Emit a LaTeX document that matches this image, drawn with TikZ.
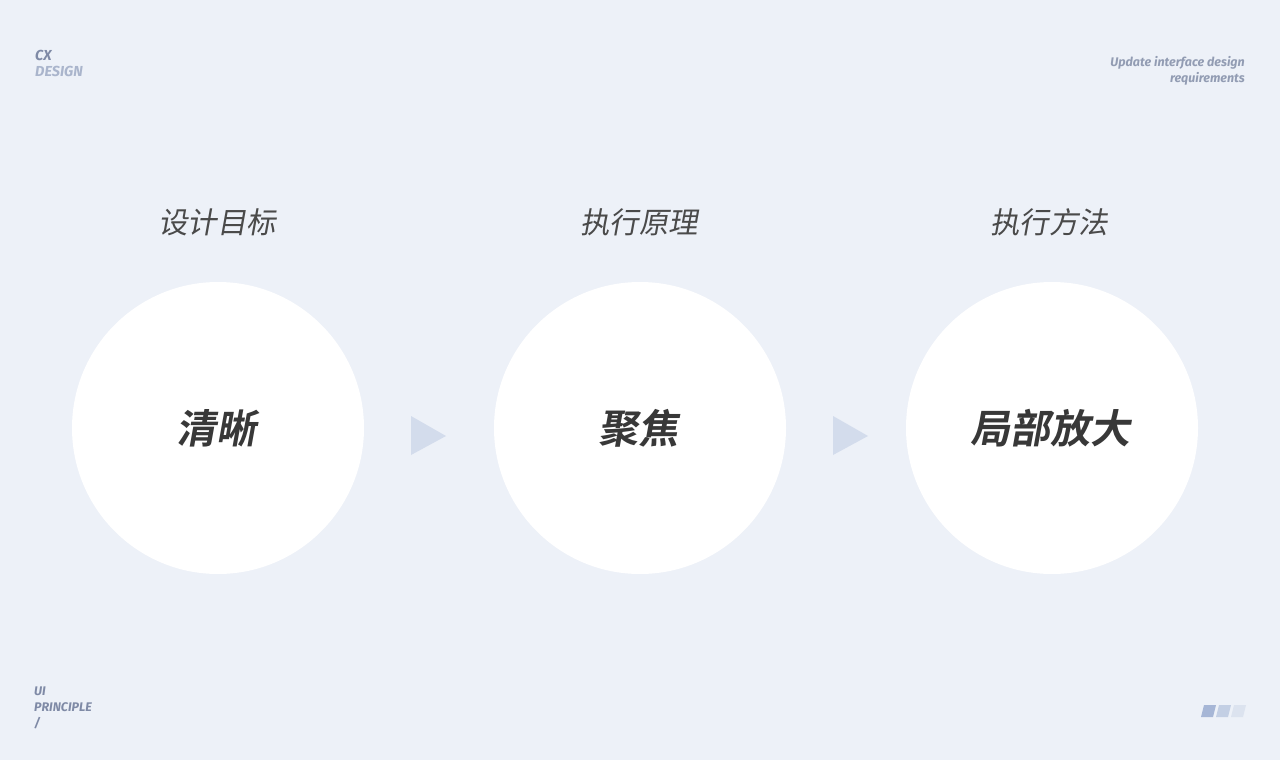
\documentclass[tikz,border=0pt]{standalone}
\usepackage{fontspec}
\newfontfamily\cjkh[FakeSlant=0.18]{Noto Sans CJK SC}
\newfontfamily\cjkb[FakeSlant=0.18,UprightFont=* Bold]{Noto Sans CJK SC}
\setsansfont{Fira Sans}
\definecolor{bg}{HTML}{EDF1F8}
\definecolor{tri}{HTML}{D3DCEC}
\definecolor{headc}{HTML}{4A4A4A}
\definecolor{mainc}{HTML}{383838}
\definecolor{labA}{HTML}{7F8AA6}
\definecolor{labB}{HTML}{AAB5CC}
\definecolor{barA}{HTML}{A6B6D6}
\definecolor{barB}{HTML}{C3CFE4}
\definecolor{barC}{HTML}{DCE3EF}
\begin{document}
\begin{tikzpicture}[x=1pt,y=-1pt,
  circ/.style={circle,fill=white,minimum size=292pt,inner sep=0pt},
  head/.style={font=\cjkh\fontsize{29.5}{30}\selectfont,text=headc,inner sep=0pt},
  maintxt/.style={font=\cjkb\fontsize{40}{42}\selectfont,text=mainc,inner sep=0pt},
  lab/.style={font=\sffamily\itshape\bfseries\fontsize{12.5}{14}\selectfont,inner sep=0pt},
  labbig/.style={font=\sffamily\itshape\bfseries\fontsize{14.5}{16}\selectfont,inner sep=0pt},
  arr/.style={fill=tri}]
\fill[bg] (0,0) rectangle (1280,760);
\useasboundingbox (0,0) rectangle (1280,760);
% circles
\node[circ] (c1) at (218,428) {};
\node[circ] (c2) at (640,428) {};
\node[circ] (c3) at (1052,428) {};
\node[maintxt] (t1) at (216,428) {清晰};
\node[maintxt] (t2) at (638,428) {聚焦};
\node[maintxt] (t3) at (1050,428) {局部放大};
\node[head] (h1) at (217,222) {设计目标};
\node[head] (h2) at (639,222) {执行原理};
\node[head] (h3) at (1049,222) {执行方法};
% triangles
\fill[arr] (411,416) -- (446,436) -- (411,455) -- cycle;
\fill[arr] (833,416) -- (868,436) -- (833,455) -- cycle;
% labels
\node[labbig,text=labA,anchor=west] (cx) at (35,55) {CX};
\node[labbig,text=labB,anchor=west] (ds) at (35,71) {DESIGN};
\node[lab,text=labA!85,anchor=east] (u1) at (1245,63) {Update interface design};
\node[lab,text=labA!85,anchor=east] (u2) at (1245,79) {requirements};
\node[lab,text=labA,anchor=west] (ui) at (34,691) {UI};
\node[lab,text=labA,anchor=west] (pr) at (34,707) {PRINCIPLE};
\node[lab,text=labA,anchor=west] (sl) at (34,723) {/};
% bars
\fill[barA] (1204,705) -- (1216,705) -- (1213,717) -- (1201,717) -- cycle;
\fill[barB] (1219,705) -- (1231,705) -- (1228,717) -- (1216,717) -- cycle;
\fill[barC] (1234,705) -- (1246,705) -- (1243,717) -- (1231,717) -- cycle;
\end{tikzpicture}
\end{document}
